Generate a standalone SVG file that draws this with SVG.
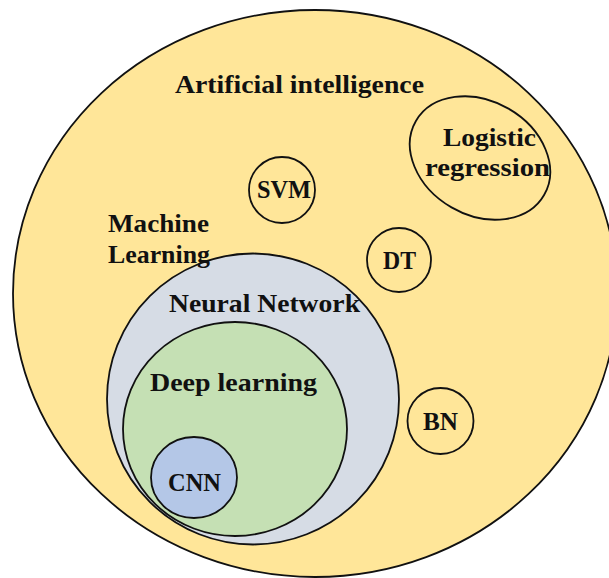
<svg xmlns="http://www.w3.org/2000/svg" width="609" height="578" viewBox="0 0 609 578">
  <style>
    .ring { stroke: #111; stroke-width: 1.8; }
    .ai { fill: #FFE699; }
    .nn { fill: #D6DCE5; }
    .dl { fill: #C5E0B4; }
    .cnn { fill: #B4C7E7; }
    .leaf { fill: none; }
    text { font-family: "Liberation Serif", "DejaVu Serif", serif; font-weight: bold; font-size: 26px; fill: #111; }
    .c { text-anchor: middle; }
  </style>
  <rect width="609" height="578" fill="#ffffff"/>

  <g id="artificial-intelligence">
    <ellipse class="ring ai" cx="315" cy="293.5" rx="302" ry="283.5"/>
    <text class="c" x="299.5" y="93" textLength="249" lengthAdjust="spacingAndGlyphs">Artificial intelligence</text>
  </g>

  <g id="logistic-regression">
    <ellipse class="ring leaf" cx="480" cy="158" rx="74" ry="57" transform="rotate(30 480 158)"/>
    <text class="c" x="489.5" y="146" textLength="93" lengthAdjust="spacingAndGlyphs">Logistic</text>
    <text class="c" x="487.5" y="176" textLength="125" lengthAdjust="spacingAndGlyphs">regression</text>
  </g>

  <g id="svm">
    <circle class="ring leaf" cx="282" cy="190" r="33"/>
    <text class="c" x="284" y="198" textLength="54" lengthAdjust="spacingAndGlyphs">SVM</text>
  </g>

  <g id="dt">
    <circle class="ring leaf" cx="399" cy="260" r="32"/>
    <text class="c" x="399.5" y="269" textLength="33" lengthAdjust="spacingAndGlyphs">DT</text>
  </g>

  <g id="bn">
    <circle class="ring leaf" cx="440.5" cy="421" r="33"/>
    <text class="c" x="440.5" y="430" textLength="35" lengthAdjust="spacingAndGlyphs">BN</text>
  </g>

  <g id="neural-network">
    <ellipse class="ring nn" cx="253" cy="399" rx="146" ry="145.5"/>
    <text class="c" x="264.5" y="312" textLength="191" lengthAdjust="spacingAndGlyphs">Neural Network</text>
  </g>

  <!-- label sits over the neural-network outline, so it is drawn after it -->
  <g id="machine-learning">
    <text x="108" y="232" textLength="101" lengthAdjust="spacingAndGlyphs">Machine</text>
    <text x="108" y="263" textLength="102" lengthAdjust="spacingAndGlyphs">Learning</text>
  </g>

  <g id="deep-learning">
    <ellipse class="ring dl" cx="235" cy="429" rx="112" ry="107"/>
    <text class="c" x="233.5" y="391" textLength="167" lengthAdjust="spacingAndGlyphs">Deep learning</text>
  </g>

  <g id="cnn">
    <ellipse class="ring cnn" cx="194" cy="477.5" rx="43" ry="40.5"/>
    <text class="c" x="194.5" y="491" textLength="53" lengthAdjust="spacingAndGlyphs">CNN</text>
  </g>

  <g id="connectors"/>
</svg>
